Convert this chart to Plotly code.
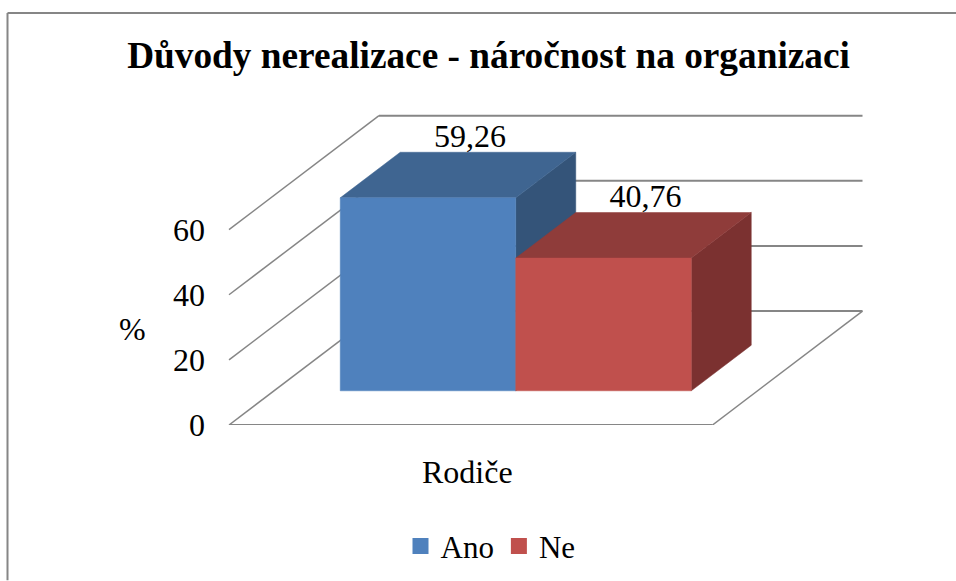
import plotly.graph_objs as go

title = "Důvody nerealizace - náročnost na organizaci"
categories = ["Rodiče"]
series_names = ["Ano", "Ne"]
series_values = [[59.26], [40.76]]
y_ticks = [0, 20, 40, 60]
y_title = "%"

front_colors = ["#4F81BD", "#C0504D"]
top_colors = ["#3F6591", "#8F3C3A"]
side_colors = ["#345479", "#7B3130"]
grid_color = "#868686"
font = "Liberation Serif"

# oblique projection of the 3d box, x in page pixels, y in value units
px_per_unit = 3.26
x_front = 229
floor_width = 483.5
depth_dx = 150
depth_dy = 35
bar_start = 0.137
bar_width = 0.363
depth_start = 0.3
depth_end = 0.7


def project(u, value, d):
    return x_front + u * floor_width + d * depth_dx, value + d * depth_dy


def poly(corners):
    pts = [project(*c) for c in corners + corners[:1]]
    return [p[0] for p in pts], [p[1] for p in pts]


def face(corners, color):
    xs, ys = poly(corners)
    return go.Scatter(x=xs, y=ys, mode="lines", fill="toself", fillcolor=color,
                      line=dict(color=color, width=0.5), showlegend=False,
                      hoverinfo="skip", cliponaxis=False)


def grid(corners, width):
    xs = [project(*c)[0] for c in corners]
    ys = [project(*c)[1] for c in corners]
    return go.Scatter(x=xs, y=ys, mode="lines", line=dict(color=grid_color, width=width),
                      showlegend=False, hoverinfo="skip", cliponaxis=False)


traces = []
for v in y_ticks:
    traces.append(grid([(0, v, 0), (0, v, 1)], 1.5))
    traces.append(grid([(0, v, 1), (1, v, 1)], 2))
traces.append(grid([(0, 0, 0), (1, 0, 0)], 2))
traces.append(grid([(1, 0, 0), (1, 0, 1)], 1.5))

for i, name in enumerate(series_names):
    v = series_values[i][0]
    u0 = bar_start + i * bar_width
    u1 = u0 + bar_width
    traces.append(face([(u1, 0, depth_start), (u1, 0, depth_end), (u1, v, depth_end), (u1, v, depth_start)], side_colors[i]))
    traces.append(face([(u0, v, depth_start), (u1, v, depth_start), (u1, v, depth_end), (u0, v, depth_end)], top_colors[i]))
    traces.append(face([(u0, 0, depth_start), (u1, 0, depth_start), (u1, v, depth_start), (u0, v, depth_start)], front_colors[i]))

# data labels sit above the top face, a bit towards the back
for i, name in enumerate(series_names):
    v = series_values[i][0]
    u = bar_start + (i + 0.5) * bar_width
    lx, ly = project(u, v, depth_start + 0.28)
    traces.append(go.Scatter(x=[lx], y=[v + depth_start * depth_dy + 18.2], mode="text",
                             text=[str(v).replace(".", ",")],
                             textposition="middle center",
                             textfont=dict(family=font, size=32, color="#000000"),
                             showlegend=False, hoverinfo="skip", cliponaxis=False))

for i, name in enumerate(series_names):
    traces.append(go.Scatter(x=[None], y=[None], mode="markers", name=name,
                             marker=dict(symbol="square", size=16, color=front_colors[i])))

fig_w, fig_h = 956, 581
left, bottom = 206, 155.5
plot_h = fig_h - bottom
plot_w = fig_w - left


def paper_x(px):
    return (px - left) / plot_w


def paper_y(px):
    return (fig_h - bottom - px) / plot_h


layout = go.Layout(
    width=fig_w, height=fig_h,
    margin=dict(l=left, r=0, t=0, b=bottom),
    paper_bgcolor="white", plot_bgcolor="white",
    title=dict(text="<b>" + title + "</b>", x=488.5 / fig_w, xanchor="center",
               y=1 - 54.5 / fig_h, yanchor="middle",
               font=dict(family=font, size=37.3, color="#000000")),
    xaxis=dict(range=[left, fig_w], showgrid=False, zeroline=False, showline=False,
               tickvals=[x_front + floor_width / 2 - 3.5], ticktext=categories,
               ticks="outside", ticklen=19, tickcolor="rgba(0,0,0,0)",
               tickfont=dict(family=font, size=32, color="#000000")),
    yaxis=dict(range=[0, plot_h / px_per_unit], showgrid=False, zeroline=False, showline=False,
               tickvals=y_ticks, ticktext=[str(t) for t in y_ticks],
               ticks="", ticklabelstandoff=0,
               tickfont=dict(family=font, size=32, color="#000000")),
    legend=dict(orientation="h", x=paper_x(400.5), y=paper_y(520), xanchor="left", yanchor="top",
                font=dict(family=font, size=31, color="#000000"),
                bgcolor="rgba(0,0,0,0)", itemclick=False, itemdoubleclick=False),
    showlegend=True,
    annotations=[dict(text=y_title, x=paper_x(132), y=paper_y(329), xref="paper", yref="paper",
                      xanchor="center", yanchor="middle", showarrow=False,
                      font=dict(family=font, size=32, color="#000000"))],
    shapes=[dict(type="line", xref="paper", yref="paper", x0=paper_x(7.5), x1=paper_x(7.5),
                 y0=paper_y(fig_h), y1=paper_y(13), line=dict(color=grid_color, width=2)),
            dict(type="line", xref="paper", yref="paper", x0=paper_x(7.5), x1=paper_x(fig_w),
                 y0=paper_y(13), y1=paper_y(13), line=dict(color=grid_color, width=2))],
)

fig = go.Figure(data=traces, layout=layout)
fig.write_html("out.html", config=dict(displayModeBar=False),
               post_script="document.body.style.margin='0';")
